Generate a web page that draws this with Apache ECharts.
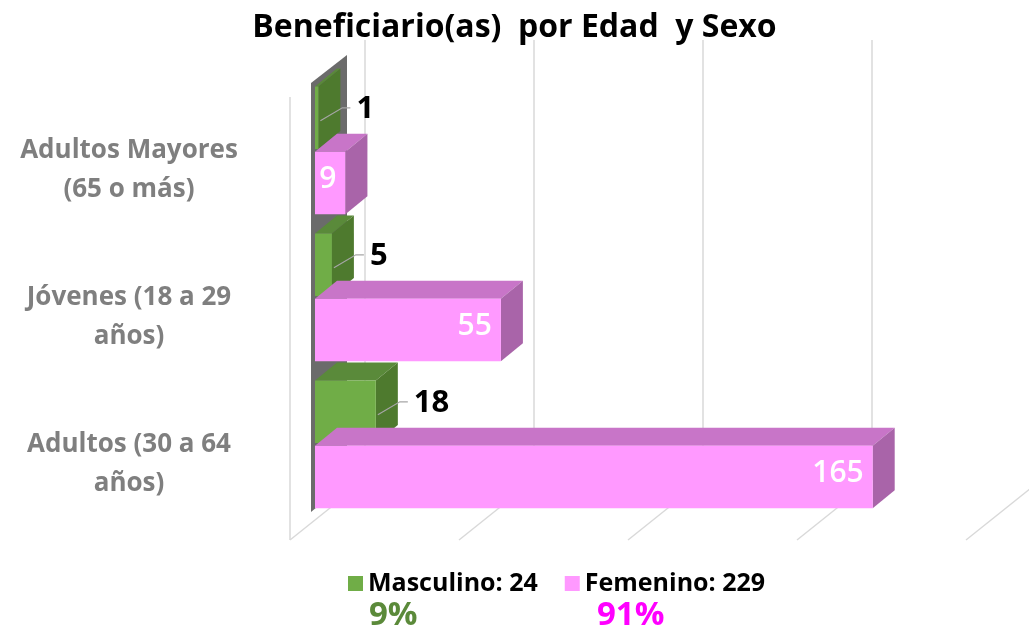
<!DOCTYPE html>
<html>
<head>
<meta charset="utf-8" />
<title>Beneficiario(as) por Edad y Sexo</title>
<script src="https://cdn.jsdelivr.net/npm/echarts@6/dist/echarts.min.js"></script>
<style>
html, body { width: 100%; height: 100%; margin: 0; background: #fff; }
#main { width: 1029px; height: 631px; }
</style>
</head>
<body>
<div id="main"></div>
<script>
var categories = ['Adultos Mayores\n(65 o más)', 'Jóvenes (18 a 29\naños)', 'Adultos (30 a 64\naños)'];
var masculino = [1, 5, 18];
var femenino = [9, 55, 165];
var gridTicks = [0, 50, 100, 150, 200];
var seriesNames = ['Masculino', 'Femenino'];

var FONT = '"Open Sans", Lato, sans-serif';
var DX = 22, DY = -18;          // depth of one bar
var green = { front: '#70ad47', top: '#5a8a3a', side: '#4e7a2e' };
var pink = { front: '#ff99ff', top: '#c875c8', side: '#a964a9' };

function sum(a) { return a.reduce(function (s, v) { return s + v; }, 0); }
var totals = [sum(masculino), sum(femenino)];
var grand = totals[0] + totals[1];

var chart = echarts.init(document.getElementById('main'));

// back wall grid lines, floor lines and the dark side strip
function renderWalls(params, api) {
    var cs = params.coordSys;
    var top = cs.y, bottom = cs.y + cs.height;
    var x = api.coord([api.value(0), 0])[0];
    var line = { stroke: '#d9d9d9', lineWidth: 1.5 };
    var kids = [
        { type: 'line', shape: { x1: x + 50, y1: top - 37, x2: x + 50, y2: bottom - 38 }, style: line },
        { type: 'line', shape: { x1: x - 25, y1: bottom + 22, x2: x + 50, y2: bottom - 38 }, style: line }
    ];
    if (api.value(0) === 0) {
        kids.push({ type: 'line', shape: { x1: x - 25, y1: top + 20, x2: x - 25, y2: bottom + 22 }, style: line });
        kids.push({ type: 'polygon', shape: { points: [[x - 4, top + 6], [x + 32, top - 22], [x + 32, bottom - 36], [x - 4, bottom - 6]] },
            style: { fill: '#6b6b6b' } });
    }
    return { type: 'group', children: kids };
}

function makeBar(slot, col) {
    return function (params, api) {
        var val = api.value(0), cat = api.value(1);
        var p0 = api.coord([0, cat]);
        var p1 = api.coord([val, cat]);
        var band = api.size([0, 1])[1];
        var h = band * 0.425;
        var ya = slot === 0 ? p0[1] - band * 0.435 : p0[1] + band * 0.008;
        var yb = ya + h;
        var x0 = p0[0], x1 = p1[0];
        var cy = (ya + yb) / 2;
        var kids = [
            { type: 'polygon', shape: { points: [[x0, ya], [x1, ya], [x1 + DX, ya + DY], [x0 + DX, ya + DY]] }, style: { fill: col.top } },
            { type: 'polygon', shape: { points: [[x1, ya], [x1 + DX, ya + DY], [x1 + DX, yb + DY], [x1, yb]] }, style: { fill: col.side } },
            { type: 'rect', shape: { x: x0, y: ya, width: x1 - x0, height: h }, style: { fill: col.front } }
        ];
        if (slot === 0) {
            kids.push({ type: 'polyline', shape: { points: [[x1 + 2, cy + 3], [x1 + 24, cy - 10], [x1 + 32, cy - 10]] },
                style: { stroke: '#a6a6a6', lineWidth: 1.2, fill: null } });
            kids.push({ type: 'text', x: x1 + 38, y: cy - 9,
                style: { text: String(val), fill: '#000', font: 'bold 31px ' + FONT, textAlign: 'left', textVerticalAlign: 'middle' } });
        } else {
            kids.push({ type: 'text', x: x1 - 9, y: cy - 3,
                style: { text: String(val), fill: '#fff', font: '600 30px ' + FONT, textAlign: 'right', textVerticalAlign: 'middle' } });
        }
        return { type: 'group', children: kids };
    };
}

var option = {
    backgroundColor: '#fff',
    animation: false,
    title: {
        text: 'Beneficiario(as)  por Edad  y Sexo',
        left: 'center',
        top: 7,
        textStyle: { fontFamily: FONT, fontWeight: 'bold', fontSize: 32, color: '#000' }
    },
    legend: {
        data: seriesNames,
        left: 343,
        top: 566,
        icon: 'rect',
        itemWidth: 15,
        itemHeight: 15,
        itemGap: 27,
        selectedMode: false,
        formatter: function (name) {
            return name + ': ' + totals[seriesNames.indexOf(name)];
        },
        textStyle: { fontFamily: FONT, fontWeight: 'bold', fontSize: 25, color: '#000' }
    },
    graphic: [
        { type: 'text', left: 369, top: 599,
          style: { text: Math.round(totals[0] / grand * 100) + '%', fill: '#5b8a3a', font: 'bold 33px ' + FONT } },
        { type: 'text', left: 597, top: 599,
          style: { text: Math.round(totals[1] / grand * 100) + '%', fill: '#ff00ff', font: 'bold 33px ' + FONT } }
    ],
    grid: { left: 315, right: 38, top: 77, bottom: 113 },
    xAxis: {
        type: 'value', min: 0, max: 200, interval: 50,
        axisLabel: { show: false }, axisLine: { show: false }, axisTick: { show: false }, splitLine: { show: false }
    },
    yAxis: {
        type: 'category',
        data: categories,
        inverse: true,
        axisLine: { show: false },
        axisTick: { show: false },
        axisLabel: {
            margin: 186,
            align: 'center',
            lineHeight: 39,
            // labels sit a line lower than the bar pair centre
            formatter: function (v) { return '\n' + v; },
            fontFamily: FONT,
            fontWeight: 'bold',
            fontSize: 26,
            color: '#7f7f7f'
        }
    },
    series: [
        {
            type: 'custom',
            silent: true,
            renderItem: renderWalls,
            encode: { x: 0, y: 1 },
            data: gridTicks.map(function (t) { return [t, 0]; })
        },
        {
            name: seriesNames[0],
            type: 'custom',
            itemStyle: { color: green.front },
            renderItem: makeBar(0, green),
            encode: { x: 0, y: 1 },
            data: masculino.map(function (v, i) { return [v, i]; })
        },
        {
            name: seriesNames[1],
            type: 'custom',
            itemStyle: { color: pink.front },
            renderItem: makeBar(1, pink),
            encode: { x: 0, y: 1 },
            data: femenino.map(function (v, i) { return [v, i]; })
        }
    ]
};

chart.setOption(option);
</script>
</body>
</html>
